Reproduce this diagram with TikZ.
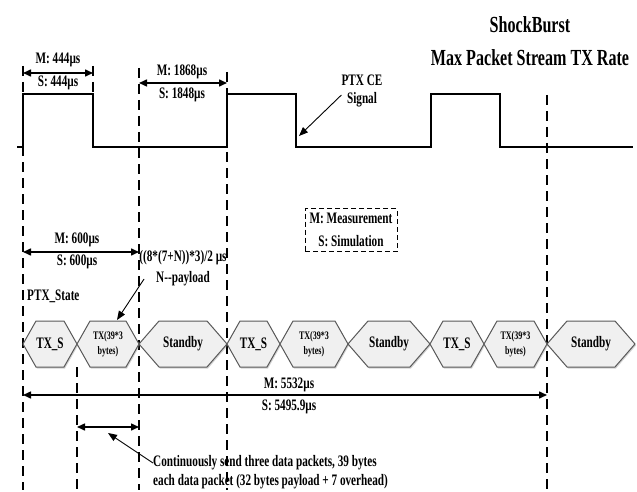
\documentclass[tikz,border=0pt]{standalone}
\usepackage{fontspec}
\setmainfont[FakeStretch=0.7]{Liberation Serif}
\usetikzlibrary{arrows.meta,positioning,calc,shadows}
\begin{document}
\begin{tikzpicture}[x=1pt,y=-1pt,font=\fontsize{16}{18}\selectfont\bfseries,
  every node/.style={inner sep=0pt},
  dim/.style={{Triangle[length=8pt,width=7pt]}-{Triangle[length=8pt,width=7pt]},line width=1.5pt},
  ptr/.style={-{Triangle[length=9pt,width=7pt]},line width=0.9pt},
  guide/.style={dash pattern=on 10pt off 6pt,line width=1.2pt},
  wave/.style={line width=2pt},
  hexbox/.style={draw=black!65,fill=black!6,line width=1pt,
    drop shadow={shadow xshift=1pt,shadow yshift=-1.5pt,opacity=0.35}}]
  \useasboundingbox (0,0) rectangle (637,492);
  % Title
  \node[font=\fontsize{23}{33}\selectfont\bfseries,align=center] (title) at (530,41) {ShockBurst\\Max Packet Stream TX Rate};
  % PTX CE signal
  \draw[wave] (17,147) -- (23,147) -- (23,94) -- (93,94) -- (93,147) -- (227,147) -- (227,94) -- (296,94)
    -- (296,147) -- (431,147) -- (431,94) -- (500,94) -- (500,147) -- (633,147);
  \node[font=\fontsize{16}{18}\selectfont\bfseries,align=center] (ptxce) at (362,91) {PTX CE\\Signal};
  \coordinate (ceTip) at (299,136);
  \draw[ptr] ([yshift=-4pt]ptxce.west) -- (ceTip);
  % guide lines
  \foreach \x/\ya/\yb in {23/66/490, 93/66/122, 77/367/490, 139/68/490, 227/72/490, 547/95/490}{
    \draw[guide] (\x,\ya) -- (\x,\yb);
  }
  % dimension arrows
  \foreach \n/\xa/\xb/\y in {d444/23/93/73, d1868/139/227/83, d600/23/139/252, dtot/23/547/395, dtx/77/139/427}{
    \coordinate (\n-l) at (\xa,\y);
    \coordinate (\n-r) at (\xb,\y);
    \draw[dim] (\n-l) -- (\n-r);
  }
  \node (m444) at (58,60) {M: 444µs};
  \node (s444) at (58,83) {S: 444µs};
  \node (m1868) at (182,72) {M: 1868µs};
  \node (s1848) at (182,95) {S: 1848µs};
  \node (m600) at (77,240) {M: 600µs};
  \node (s600) at (77,262) {S: 600µs};
  \node (formula) at (183,258) {((8*(7+N))*3)/2 µs};
  \node (npay) at (183,279) {N-{}-payload};
  \node[anchor=west] (ptxst) at (27,296) {PTX\_State};
  % legend
  \node[draw,dash pattern=on 5pt off 3pt,line width=1pt,align=center,minimum width=92pt,minimum height=43pt,
    font=\fontsize{16}{23}\selectfont\bfseries] (legend) at (351,230) {M: Measurement\\S: Simulation};
  % PTX states
  \foreach \n/\xa/\xb/\s/\sz/\txt in {h1/23/77/13/16/TX\_S, h2/77/139/13/11.5/{TX(39*3\\bytes)},
      h3/139/227/20/16/Standby, h4/227/280/13/16/TX\_S, h5/280/348/13/11.5/{TX(39*3\\bytes)},
      h6/348/430/20/16/Standby, h7/430/484/13/16/TX\_S, h8/484/547/13/11.5/{TX(39*3\\bytes)},
      h9/547/635/20/16/Standby}{
    \draw[hexbox] (\xa,344) -- (\xa+\s,321) -- (\xb-\s,321) -- (\xb,344) -- (\xb-\s,367) -- (\xa+\s,367) -- cycle;
    \node[font=\fontsize{\sz pt}{15pt}\selectfont\bfseries,align=center] (\n) at ({(\xa+\xb)/2},344) {\txt};
  }
  \coordinate (payTip) at (117,320);
  \draw[ptr] ([xshift=-12pt]npay.west) -- (payTip);
  % total
  \node (m5532) at (289,385) {M: 5532µs};
  \node (s5495) at (289,407) {S: 5495.9µs};
  % note
  \node[anchor=west,align=left,font=\fontsize{16}{19}\selectfont\bfseries] (note) at (153,472)
    {Continuously send three data packets, 39 bytes\\each data packet (32 bytes payload + 7 overhead)};
  \coordinate (noteTip) at ($(dtx-l)!0.5!(dtx-r)+(0,6)$);
  \draw[ptr] ([yshift=9pt]note.west) -- (noteTip);
\end{tikzpicture}
\end{document}
